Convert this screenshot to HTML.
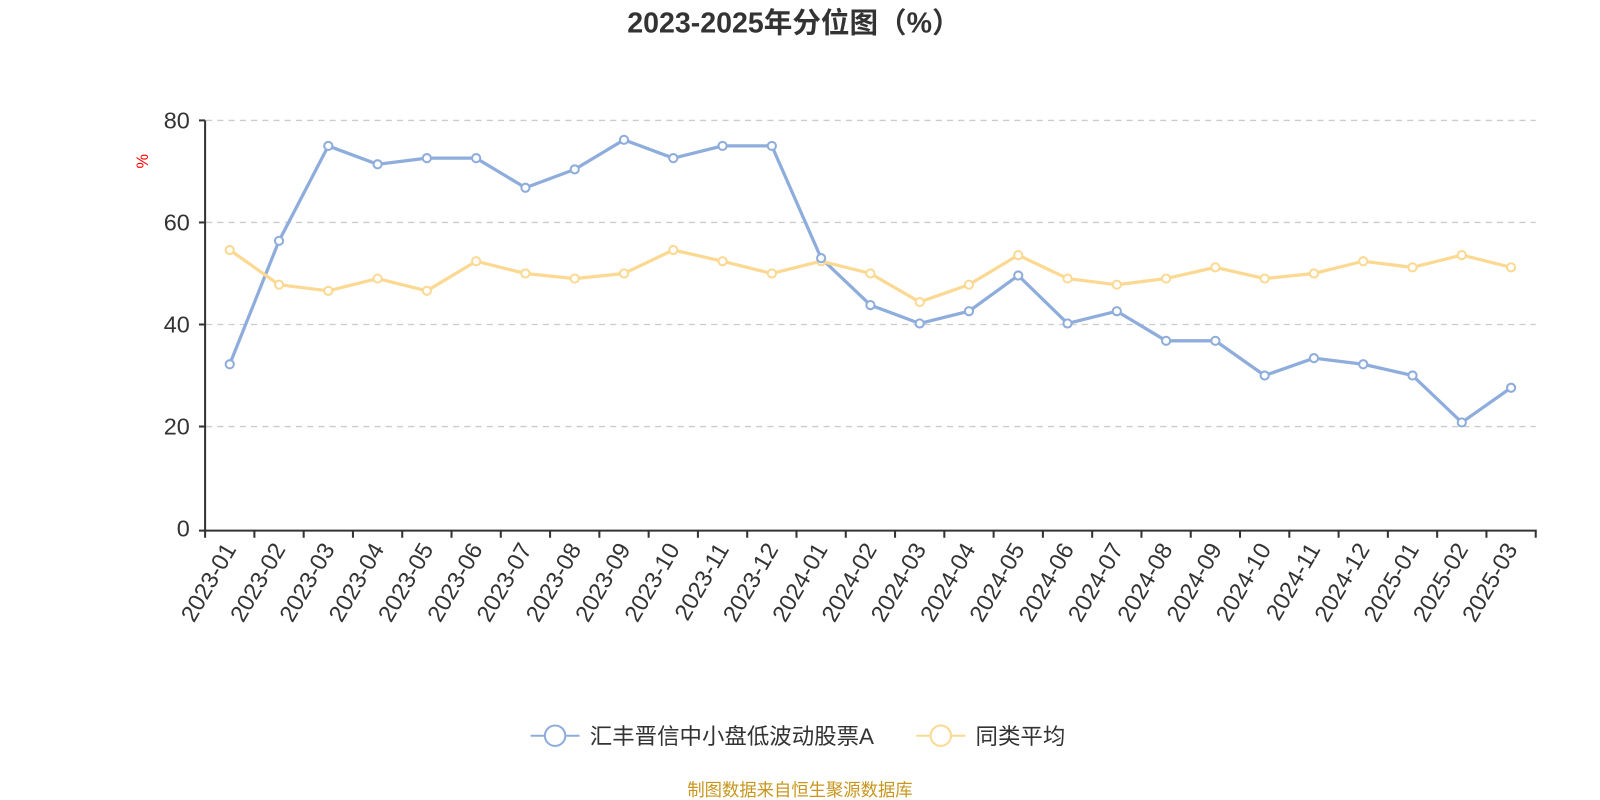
<!DOCTYPE html>
<html><head><meta charset="utf-8"><style>body{margin:0;background:#fff}svg{display:block}text{font-family:"Liberation Sans","Noto Sans CJK SC",sans-serif}</style></head>
<body>
<svg width="1600" height="800" viewBox="0 0 1568 784" xmlns="http://www.w3.org/2000/svg" id="s">
<text x="778" y="32" text-anchor="middle" font-size="28" font-weight="bold" fill="#333">2023-2025年分位图（%）</text>
<text x="145" y="158" font-size="16" fill="red" transform="rotate(-90 145 158)" text-anchor="middle">%</text>
<g stroke="#ccc" stroke-dasharray="6,5" stroke-width="1.3">
<line x1="202" x2="1505" y1="118" y2="118"/><line x1="202" x2="1505" y1="218" y2="218"/><line x1="202" x2="1505" y1="318" y2="318"/><line x1="202" x2="1505" y1="418" y2="418"/></g>
<g font-size="23" fill="#333" text-anchor="end">
<text x="186" y="126">80</text><text x="186" y="226">60</text><text x="186" y="326">40</text><text x="186" y="426">20</text><text x="186" y="526">0</text></g>
<line x1="201" y1="118" x2="201" y2="521" stroke="#333" stroke-width="2"/>
<line x1="195" y1="118" x2="201" y2="118" stroke="#333" stroke-width="2"/>
<line x1="195" y1="218" x2="201" y2="218" stroke="#333" stroke-width="2"/>
<line x1="195" y1="318" x2="201" y2="318" stroke="#333" stroke-width="2"/>
<line x1="195" y1="418" x2="201" y2="418" stroke="#333" stroke-width="2"/>
<line x1="195" y1="520" x2="201" y2="520" stroke="#333" stroke-width="2"/>
<line x1="201" y1="520" x2="1506" y2="520" stroke="#333" stroke-width="2"/>
<g id="ticks"></g>
<polyline id="pb" fill="none" stroke="#8eaddc" stroke-width="3.2"/>
<polyline id="py" fill="none" stroke="#fcd993" stroke-width="3.2"/>
<g id="dots"></g>
<line x1="520" y1="721" x2="568" y2="721" stroke="#8eaddc" stroke-width="2"/>
<circle cx="544" cy="721" r="10" fill="#fff" stroke="#8eaddc" stroke-width="2"/>
<text x="578" y="729" font-size="22" fill="#333">汇丰晋信中小盘低波动股票A</text>
<line x1="898" y1="721" x2="946" y2="721" stroke="#fcd993" stroke-width="2"/>
<circle cx="922" cy="721" r="10" fill="#fff" stroke="#fcd993" stroke-width="2"/>
<text x="956" y="729" font-size="22" fill="#333">同类平均</text>
<text x="784" y="780" text-anchor="middle" font-size="17" fill="#c8961e">制图数据来自恒生聚源数据库</text>
</svg>
<script>
var b=[357,236,143,161,155,155,184,166,137,155,143,143,253,299,317,305,270,317,305,334,334,368,351,357,368,414,380];
var y=[245,279,285,273,285,256,268,273,268,245,256,268,256,268,296,279,250,273,279,273,262,273,268,256,262,250,262];
var labs=[];for(var yr=2023;yr<=2025;yr++)for(var m=1;m<=12;m++){if(yr==2025&&m>3)break;labs.push(yr+"-"+(m<10?"0":"")+m);}
var bw=(1505-201)/27,t="",d="",pb=[],py=[];
for(var i=0;i<=27;i++){var x=201+bw*i;t+='<line x1="'+x+'" x2="'+x+'" y1="520" y2="527" stroke="#333" stroke-width="2"/>';}
for(var i=0;i<27;i++){var x=201+bw*(i+0.5);pb.push(x+","+b[i]);py.push(x+","+y[i]);
t+='<text x="'+(x+7)+'" y="538" font-size="23" fill="#333" text-anchor="end" transform="rotate(-60 '+(x+7)+' 538)">'+labs[i]+'</text>';
d+='<circle cx="'+x+'" cy="'+y[i]+'" r="4" fill="#fff" stroke="#fcd993" stroke-width="2"/>';}
for(var i=0;i<27;i++){var x=201+bw*(i+0.5);d+='<circle cx="'+x+'" cy="'+b[i]+'" r="4" fill="#fff" stroke="#8eaddc" stroke-width="2"/>';}
document.getElementById("ticks").innerHTML=t;document.getElementById("dots").innerHTML=d;
document.getElementById("pb").setAttribute("points",pb.join(" "));document.getElementById("py").setAttribute("points",py.join(" "));
</script>
</body></html>
